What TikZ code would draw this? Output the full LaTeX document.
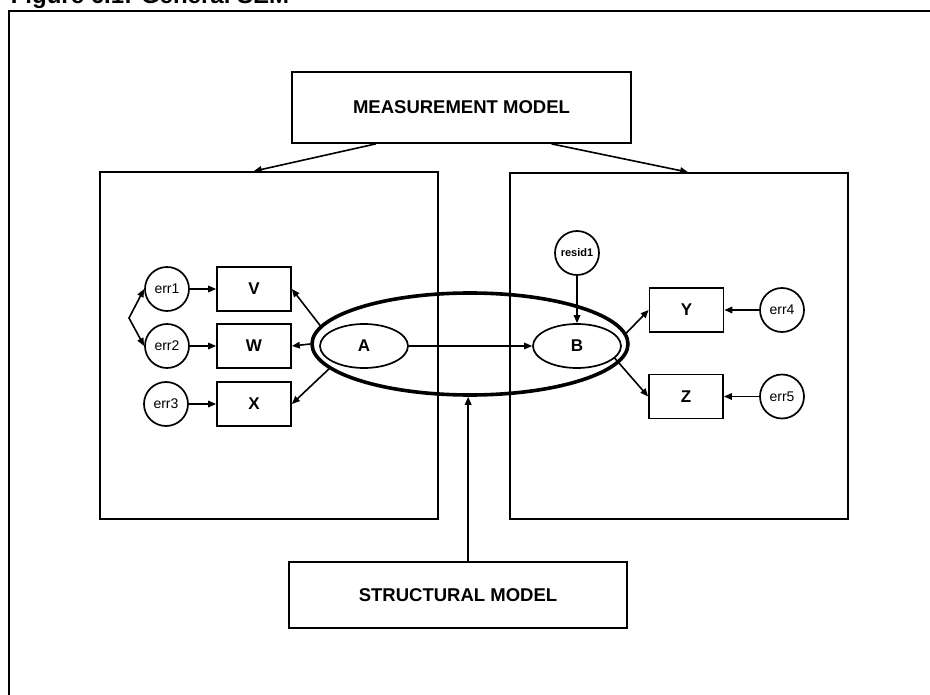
\documentclass[tikz,border=0pt]{standalone}
\usepackage{fontspec}
\setmainfont{Liberation Sans}
\usetikzlibrary{arrows.meta,shapes.geometric}
\begin{document}
\begin{tikzpicture}[x=1pt,y=-1pt,
  line width=1.6pt,
  tip/.style={-{Triangle[length=8pt,width=6.5pt]}},
  bitip/.style={{Triangle[length=8pt,width=6.5pt]}-{Triangle[length=8pt,width=6.5pt]}},
  panel/.style={draw,rectangle,inner sep=0pt,line width=1.6pt},
  labelbox/.style={draw,rectangle,inner sep=0pt,line width=1.8pt,
    font=\fontsize{18.5}{22}\selectfont\bfseries},
  obs/.style={draw,rectangle,inner sep=0pt,minimum width=74pt,minimum height=44pt,
    line width=1.7pt,font=\fontsize{17}{20}\selectfont\bfseries},
  errc/.style={draw,circle,inner sep=0pt,minimum size=44pt,line width=1.7pt,
    font=\fontsize{14}{16}\selectfont},
  latent/.style={draw,ellipse,inner sep=0pt,minimum width=88pt,minimum height=44pt,
    line width=1.7pt,font=\fontsize{17}{20}\selectfont\bfseries},
  structring/.style={draw,ellipse,inner sep=0pt,minimum width=316pt,minimum height=102pt,
    line width=3.6pt}]
\useasboundingbox (0,0) rectangle (930,695);
\clip (0,0) rectangle (930,695);

% caption and page frame
\node[anchor=base west,inner sep=0pt,font=\fontsize{24}{28}\selectfont\bfseries]
  (cap) at (10,4) {Figure 6.1: General SEM};
\draw[line width=1.8pt] (9,695) -- (9,11) -- (930,11);

% model labels and the two measurement panels
\node[labelbox,minimum width=339pt,minimum height=71pt] (M) at (461.5,107.5) {MEASUREMENT MODEL};
\node[labelbox,minimum width=338pt,minimum height=66pt] (St) at (458,595) {STRUCTURAL MODEL};
\node[panel,minimum width=338pt,minimum height=347pt] (L) at (269,345.5) {};
\node[panel,minimum width=338pt,minimum height=346pt] (R) at (679,346) {};

% structural ring around the latent variables
\node[structring] (S) at (470,344) {};

% latent variables
\node[latent] (A) at (364,346) {A};
\node[latent] (B) at (577,346) {B};

% indicators of A
\node[obs] (V) at (254,289) {V};
\node[obs] (W) at (254,346) {W};
\node[obs] (X) at (254,404) {X};
\node[errc] (e1) at (167,289) {err1};
\node[errc] (e2) at (167,346) {err2};
\node[errc] (e3) at (166,404) {err3};

% indicators of B
\node[obs] (Y) at (686.5,310) {Y};
\node[obs] (Z) at (686,396.5) {Z};
\node[errc] (e4) at (782,310) {err4};
\node[errc] (e5) at (782,396.5) {err5};
\node[errc,font=\fontsize{11}{13}\selectfont\bfseries] (r1) at (577,253) {resid1};

% measurement model pointers
\draw[tip] (M.203) -- (L.95.6);
\draw[tip] (M.338.6) -- (R.87);

% structural model pointer
\draw[tip] (St.north -| S.268) -- (S.268);

% loadings
\draw[tip] (S.173) -- (V.east);
\draw[tip] (S.180) -- (W.east);
\draw[tip] (S.190.7) -- (X.east);
\draw[tip] (S.4) -- (Y.west);
\draw[tip] (B.-18) -- (Z.west);

% structural path and disturbance
\draw[tip] (A.east) -- (B.west);
\draw[tip] (r1.south) -- (B.north);

% measurement errors
\draw[tip] (e1.east) -- (V.west);
\draw[tip] (e2.east) -- (W.west);
\draw[tip] (e3.east) -- (X.west);
\draw[tip] (e4.west) -- (Y.east);
\draw[tip] (e5.west) -- (Z.east);

% covariance between err1 and err2
\coordinate (cv) at (129,318);
\draw[bitip] (e1.west) -- (cv) -- (e2.west);
\end{tikzpicture}
\end{document}
